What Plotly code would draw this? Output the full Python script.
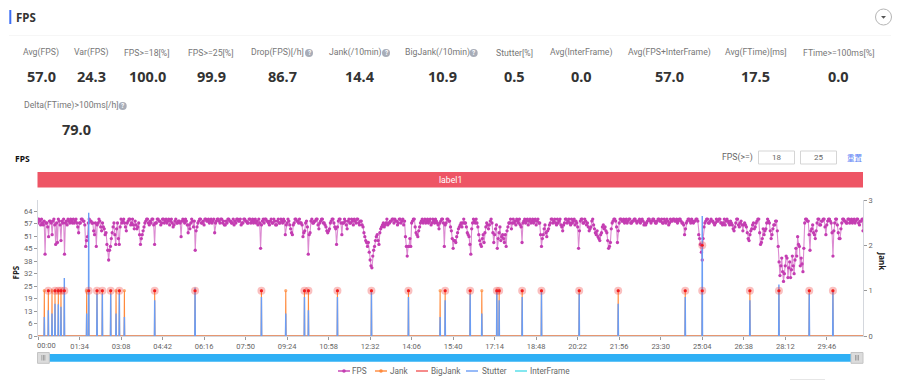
import plotly.graph_objects as go

W, H = 900, 380

# ---------- data ----------
FPS_STEP_SECONDS = 2
fps_values = [
    58,60,59,57,60,58,57,59,42,58,58,56,51,59,59,58,52,59,60,57,47,58,48,60,59,57,49,59,58,60,42,58,59,57,60,59,58,60,59,58,
    60,58,59,60,58,56,53,58,58,60,60,59,59,57,46,49,51,58,60,59,59,58,58,54,52,58,46,57,58,60,59,56,54,58,56,55,52,53,47,44,
    39,44,46,50,53,56,58,52,47,55,58,50,47,56,60,58,59,60,58,56,54,58,59,60,60,57,58,60,57,55,59,57,55,56,58,52,47,50,52,54,
    56,58,59,60,60,58,57,59,58,60,60,57,47,58,58,60,60,59,59,57,58,60,60,58,59,60,58,59,60,57,59,60,58,56,57,59,60,58,58,59,
    59,58,51,59,60,59,58,60,59,57,53,57,55,58,60,59,56,59,44,54,56,58,59,60,60,58,58,59,57,60,60,59,59,60,58,59,60,58,59,60,
    53,58,59,60,60,59,58,60,60,58,59,57,57,59,58,60,60,59,59,58,58,60,57,59,58,60,60,59,59,60,57,58,58,60,60,59,59,58,58,60,
    60,58,59,60,58,59,60,58,59,57,60,58,45,57,59,60,58,60,60,59,59,58,57,59,60,58,58,60,59,57,57,59,60,58,58,60,59,58,60,59,
    52,57,58,60,59,57,55,53,52,57,58,60,60,59,59,58,60,58,58,57,51,53,54,58,59,56,42,52,53,59,60,58,58,59,59,60,60,57,55,58,
    59,60,60,58,58,57,56,54,53,54,55,58,59,60,60,58,56,55,47,56,59,60,60,58,52,58,58,60,59,57,55,59,60,58,58,60,59,57,60,59,
    58,60,60,58,57,59,59,57,56,53,51,49,48,46,48,43,39,36,35,41,44,46,49,51,52,49,47,53,55,56,57,58,56,57,58,60,57,58,58,59,
    59,60,60,58,60,59,59,57,58,60,60,58,59,60,57,59,51,46,41,46,46,50,46,58,59,60,60,56,53,52,51,54,56,58,59,60,58,59,60,58,
    59,60,58,59,60,57,58,60,59,58,60,59,58,57,55,58,59,60,60,58,46,57,58,60,60,59,59,56,54,50,45,49,49,48,51,53,55,56,57,58,
    56,58,60,58,58,56,53,52,51,47,42,55,58,60,59,58,60,58,56,52,49,47,46,50,52,48,53,56,58,57,55,57,59,60,58,53,48,52,55,57,
    45,50,53,56,49,51,52,50,48,52,46,54,56,58,58,60,55,58,60,58,59,57,60,59,58,60,57,56,48,58,59,60,58,59,60,57,59,60,58,59,
    60,58,59,60,57,59,60,58,58,52,46,50,52,55,57,53,51,54,55,57,58,60,60,58,59,60,58,57,60,58,59,60,57,56,54,57,58,60,60,58,
    59,60,58,57,60,58,59,60,57,59,58,56,45,54,59,60,60,58,58,60,59,57,58,56,54,55,56,59,60,57,55,53,52,54,51,50,49,52,53,56,
    57,55,56,54,53,49,45,46,48,55,58,59,60,60,59,56,48,54,58,60,60,59,59,60,58,59,60,58,59,60,60,58,58,59,59,60,60,59,58,59,
    59,60,58,59,60,59,57,58,57,58,59,60,60,59,58,59,60,60,59,58,58,59,60,60,59,59,60,58,58,60,59,58,60,59,57,58,60,59,59,60,
    60,59,59,60,58,59,60,60,59,58,58,57,52,55,58,59,60,60,59,58,60,59,58,59,59,60,60,59,52,50,47,43,39,50,56,58,59,60,60,58,
    58,59,60,59,59,58,57,58,60,59,59,60,60,58,58,57,58,60,57,59,60,59,58,57,59,58,57,55,54,56,58,60,60,57,56,58,59,57,54,57,
    58,57,56,53,50,49,52,54,55,57,58,55,56,58,59,60,60,53,47,48,50,55,52,54,55,58,60,59,58,54,50,52,55,57,57,59,59,54,46,38,
    31,36,40,33,28,32,36,41,40,30,35,38,30,34,41,36,32,39,45,41,51,47,46,36,40,37,33,45,58,60,60,59,59,52,44,54,55,57,53,52,
    50,54,58,60,60,57,57,59,59,60,60,56,52,57,59,60,60,59,58,53,41,54,58,60,60,57,53,50,50,55,58,60,60,59,59,58,58,60,60,58,
    59,60,58,59,60,58,59,60,60,58,57,59,59,60,54,
]

jank_seconds = [14.3,23.4,31.7,38.5,46,52,59.6,110.2,114.8,133.6,145.7,164.6,176.7,184.2,195.6,
                264.2,355.6,505.9,561,603.3,612.3,678,755,838.8,910.5,921.9,978.5,1004.9,1038.9,
                1044.2,1096.3,1140,1225.4,1313.7,1465.5,1504,1611.9,1677.6,1746.3,1799.9]
stutter_values = [9.8,13.2,11.5,16.6,16.3,15,29.8,11.5,63.3,21.8,21.8,21.8,11.5,21.8,9.8,
                  18.4,24.9,20,11.5,20,13.2,20,22.6,20,9.8,18.4,21.8,11.5,23.5,
                  18.4,20,22.6,21.8,16.6,20,61.6,18.4,26.4,21.8,22.6]
bigjank_seconds = [23.4,38.5,46,52,59.6,114.8,133.6,145.7,164.6,184.2,264.2,355.6,505.9,
                   603.3,612.3,678,755,838.8,921.9,978.5,1038.9,1044.2,1096.3,1140,1225.4,
                   1313.7,1465.5,1504,1504,1611.9,1677.6,1746.3,1799.9]
bigjank_values = [1]*28 + [2] + [1]*4

x_tick_seconds = [94*i for i in range(20)]
x_tick_labels = ["00:00","01:34","03:08","04:42","06:16","07:50","09:24","10:58","12:32","14:06",
                 "15:40","17:14","18:48","20:22","21:56","23:30","25:04","26:38","28:12","29:46"]
left_tick_values = [0,6.4,12.8,19.2,25.6,32,38.4,44.8,51.2,57.6,64]
left_tick_labels = ["0","6","13","19","25","32","38","45","51","57","64"]
right_tick_values = [0,1,2,3]

stat_labels = ["Avg(FPS)","Var(FPS)","FPS>=18[%]","FPS>=25[%]","Drop(FPS)[/h]","Jank(/10min)","BigJank(/10min)",
               "Stutter[%]","Avg(InterFrame)","Avg(FPS+InterFrame)","Avg(FTime)[ms]","FTime>=100ms[%]",
               "Delta(FTime)>100ms[/h]"]
stat_values = ["57.0","24.3","100.0","99.9","86.7","14.4","10.9","0.5","0.0","57.0","17.5","0.0","79.0"]
legend_names = ["FPS","Jank","BigJank","Stutter","InterFrame"]

# ---------- layout geometry (pixels of the page) ----------
stat_x_label = [41.3,91,147.3,211.3,277.5,355,437,514.3,581,669,755.7,838.3,71]
stat_x_value = [41.3,91,147.3,211.3,282.5,360,442,514.3,581,669,755.7,838.3,76]
stat_y_label = [53]*12+[106]
stat_y_value = [76]*12+[128.7]
help_icon_x = {4:309,5:386,6:473.7,12:122.7}
T_END = 1868
Y_TOP_FPS = 135.7/1.944

def px(x): return x/W
def py(y): return 1-y/H

FONT = "Roboto"
shapes, annos = [], []
def rect(x0,y0,x1,y1,fill,line=None,lw=1,kind="rect"):
    shapes.append(dict(type=kind,xref="paper",yref="paper",x0=px(x0),x1=px(x1),y0=py(y1),y1=py(y0),
                       fillcolor=fill,line=dict(color=line or fill,width=lw if line else 0),layer="above"))
def text(x,y,s,size=10,color="#666",bold=False,anchor="center",angle=0,family=FONT):
    annos.append(dict(xref="paper",yref="paper",x=px(x),y=py(y),text=f"<b>{s}</b>" if bold else s,showarrow=False,
                      font=dict(size=size,color=color,family=family),xanchor=anchor,yanchor="middle",textangle=angle,
                      borderpad=0,borderwidth=0))

# header
rect(9.3,10,11.3,24,"#3d6ef5")
text(16,17,"FPS",11.5,"#333",True,"left",family="Noto Sans")
rect(9,35,891,35.6,"#eeeeee")
rect(875.5,9,891.5,25,"#ffffff","#b5b5b5",1,kind="circle")
shapes.append(dict(type="path",xref="paper",yref="paper",path=f"M {px(881)} {py(16)} L {px(886)} {py(16)} L {px(883.5)} {py(18.8)} Z",
                   fillcolor="#555",line=dict(width=0),layer="above"))

# statistics
for i,(lab,val) in enumerate(zip(stat_labels,stat_values)):
    text(stat_x_label[i],stat_y_label[i],lab.replace(">=","&gt;=").replace(">1","&gt;1"),8.7,"#777")
    text(stat_x_value[i],stat_y_value[i],val,14.5,"#333",True,family="Noto Sans")
    if i in help_icon_x:
        hx=help_icon_x[i]; hy=stat_y_label[i]
        rect(hx-4,hy-4,hx+4,hy+4,"#a8adb8",kind="circle")
        text(hx,hy,"?",6.5,"#ffffff",True)

# chart toolbar
text(15,158.7,"FPS",8.5,"#111",True,"left",family="Noto Sans")
text(737.3,157.5,"FPS(&gt;=)",8.7,"#666")
for x0,x1,v in [(758.5,794.5,"18"),(800.5,836.5,"25")]:
    rect(x0,151,x1,164,"#ffffff","#d5d5d5",1)
    text((x0+x1)/2,157.5,v,8,"#666")
text(855.3,157.5,"重置",7.5,"#5b7ff5",family="Noto Sans CJK SC")

# label band
rect(37.5,172,863,187.5,"#ee5565")
text(450,179.5,"label1",8.7,"#ffffff")

# zoom slider
rect(49,354,851,361.7,"#2fb0f5")
for x0,x1 in [(37.5,49.3),(851,863)]:
    rect(x0,352.5,x1,363.3,"#dcdcdc","#c4c4c4",1)
    c=(x0+x1)/2
    for d in (-1.5,0,1.5):
        rect(c+d-0.35,355,c+d+0.35,360.5,"#8a8a8a")
rect(790,379,825,380,"#e6e6e6")

# axis titles
text(14.5,273,"FPS",8,"#222",True,angle=-90,family="Noto Sans")
text(881.5,261,"Jank",8,"#222",True,angle=90,family="Noto Sans")
# first tick label sits to the right of its tick in the reference
text(46.7,345.3,x_tick_labels[0],7.5,"#666")

# ---------- traces ----------
FPS_C="#c43db2"; JANK_C="#ff8a3c"; BIG_C="#f25a5a"; ST_C="#6a9df5"; IF_C="#4fdde8"

# legend (the reference uses short 12px keys, narrower than the library's own)
legend_colors=[FPS_C,JANK_C,BIG_C,ST_C,IF_C]
legend_key_x=[338,375,416,466,515]
legend_text_x=[352,390,431,482,530]
for name,col,kx,tx in zip(legend_names,legend_colors,legend_key_x,legend_text_x):
    rect(kx,370.3,kx+12,371.7,col)
    if name in ("FPS","Jank"):
        rect(kx+4.2,369.2,kx+7.8,372.8,col,kind="circle")
    text(tx,371,name,8.2,"#666",anchor="left")

def spikes(times, values):
    xs, ys, sizes = [], [], []
    for t,v in zip(times,values):
        xs += [t-0.6,t,t+0.6]; ys += [0,v,0]; sizes += [0,3.2,0]
    return xs, ys, sizes

jx, jy, js = spikes(jank_seconds,[1]*len(jank_seconds))
sx, sy = [], []
for t,v in zip(jank_seconds,stutter_values):
    sx += [t-0.6,t,t+0.6,None]; sy += [0,v,0,None]

fps_x=[i*FPS_STEP_SECONDS for i in range(len(fps_values))]

fig=go.Figure()
fig.add_trace(go.Scatter(x=[0,T_END],y=[0,0],name="BigJank",mode="lines",yaxis="y2",
                         line=dict(color=BIG_C,width=1.2),hoverinfo="skip"))
fig.add_trace(go.Scatter(x=[0,T_END],y=[0,0],name="InterFrame",mode="lines",
                         line=dict(color=IF_C,width=1.2),hoverinfo="skip"))
fig.add_trace(go.Scatter(x=fps_x,y=fps_values,name="FPS",mode="lines+markers",
                         line=dict(color="rgba(196,61,178,0.6)",width=1.1),
                         marker=dict(color=FPS_C,size=3.3,line=dict(width=0))))
fig.add_trace(go.Scatter(x=[0]+jx+[T_END],y=[0]+jy+[0],name="Jank",mode="lines+markers",yaxis="y2",
                         line=dict(color=JANK_C,width=1.1),marker=dict(color=JANK_C,size=[0]+js+[0],line=dict(width=0))))
fig.add_trace(go.Scatter(x=sx,y=sy,name="Stutter",mode="lines",yaxis="y3",
                         line=dict(color=ST_C,width=1.4)))
fig.add_trace(go.Scatter(x=bigjank_seconds,y=bigjank_values,mode="markers",yaxis="y4",
                         marker=dict(color="rgba(240,60,60,0.32)",size=8,line=dict(width=0))))
fig.add_trace(go.Scatter(x=bigjank_seconds,y=bigjank_values,mode="markers",yaxis="y4",
                         marker=dict(color="#f01c24",size=3,line=dict(width=0))))

AX="#d4d7dd"
TICK=dict(size=7.5,color="#666",family=FONT)
fig.update_layout(
    width=W,height=H,autosize=False,margin=dict(l=0,r=0,t=0,b=0),
    paper_bgcolor="#ffffff",plot_bgcolor="#ffffff",
    font=dict(family=FONT,size=8,color="#666"),
    shapes=shapes,annotations=annos,showlegend=False,
    xaxis=dict(domain=[px(38),px(863)],range=[0,T_END],tickmode="array",tickvals=x_tick_seconds,automargin=False,
               ticktext=[""]+x_tick_labels[1:],showgrid=False,zeroline=False,showline=True,linecolor=AX,
               ticks="outside",ticklen=3,tickcolor="#999",tickfont=TICK,anchor="y",layer="below traces"),
    yaxis=dict(domain=[py(336),py(200)],range=[0,Y_TOP_FPS],tickmode="array",tickvals=left_tick_values,automargin=False,
               ticktext=left_tick_labels,showgrid=False,zeroline=False,showline=True,linecolor=AX,
               ticks="outside",ticklen=3,tickcolor="#999",tickfont=TICK,anchor="x",layer="below traces"),
    yaxis2=dict(overlaying="y",side="right",range=[0,3],tickmode="array",tickvals=right_tick_values,automargin=False,
                showgrid=False,zeroline=False,showline=True,linecolor=AX,anchor="x",
                ticks="outside",ticklen=3,tickcolor="#999",tickfont=TICK,layer="below traces"),
    yaxis3=dict(overlaying="y",range=[0,Y_TOP_FPS],visible=False,anchor="x",automargin=False),
    yaxis4=dict(overlaying="y",range=[0,3],visible=False,anchor="x",automargin=False),
)
fig.write_html("out.html",config=dict(displayModeBar=False),post_script="document.body.style.margin='0';")
